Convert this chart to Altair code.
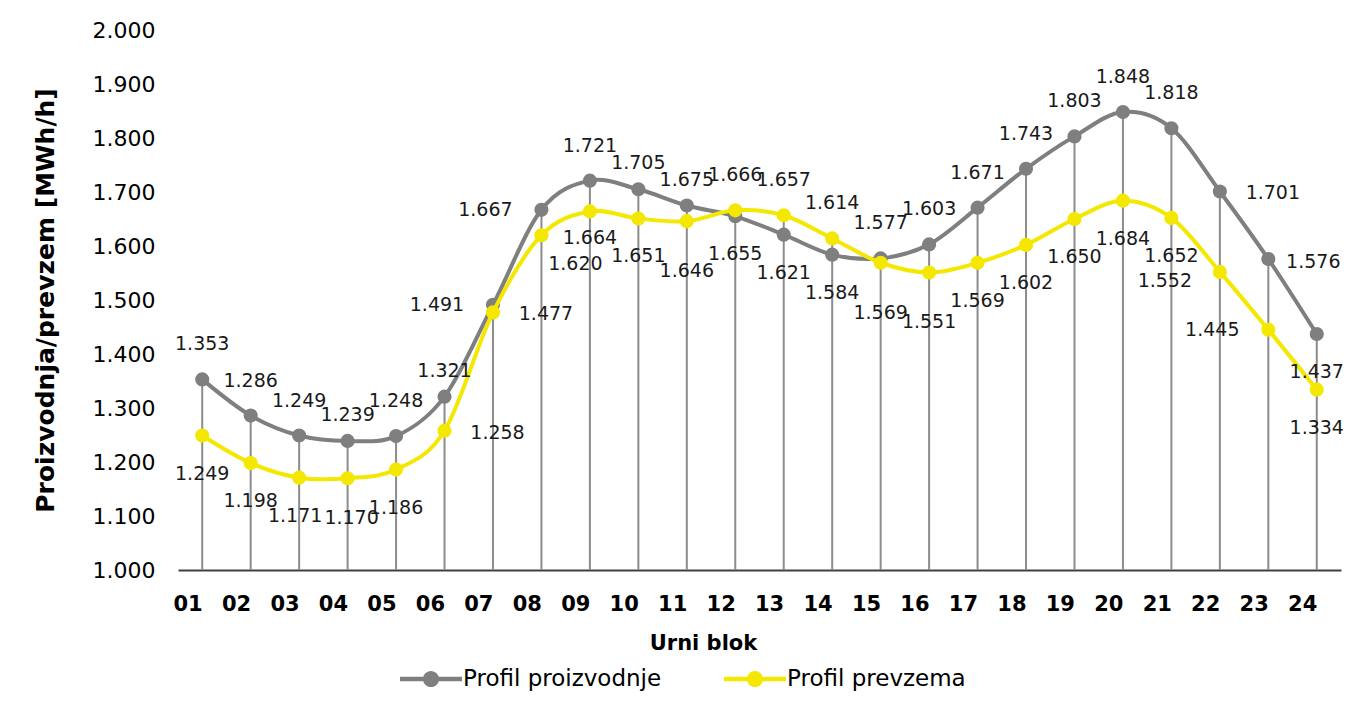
import altair as alt
import pandas as pd

hours = ["01","02","03","04","05","06","07","08","09","10","11","12",
         "13","14","15","16","17","18","19","20","21","22","23","24"]
proizvodnja = [1.353,1.286,1.249,1.239,1.248,1.321,1.491,1.667,1.721,1.705,1.675,1.655,
               1.621,1.584,1.577,1.603,1.671,1.743,1.803,1.848,1.818,1.701,1.576,1.437]
prevzem = [1.249,1.198,1.171,1.170,1.186,1.258,1.477,1.620,1.664,1.651,1.646,1.666,
           1.657,1.614,1.569,1.551,1.569,1.602,1.650,1.684,1.652,1.552,1.445,1.334]
series_names = ["Profil proizvodnje", "Profil prevzema"]
series_colors = ["#7f7f7f", "#f4e700"]

# label placement codes (style), one per point
pos_proizvodnja = ["t","t","t","t2","t","t2","l","l","t","t2","t2","b",
                   "b","b","t","t","t","t","t","t","t","r","r2","b"]
pos_prevzem = ["b","b","bL","bR","b","r","r","br","b3","b","b2","t",
               "t","t","b2","b2","b","b","b","b","b","bl","l","b"]
offsets = {"t": (0, -35), "t2": (0, -26), "b": (0, 38), "b2": (0, 50), "b3": (0, 27),
           "bL": (-4, 38), "bR": (4, 40),
           "l": (-56, 0), "r": (53, 2), "r2": (45, 3), "br": (34, 29), "bl": (-55, 9)}

rows = []
for h, v, p in zip(hours, proizvodnja, pos_proizvodnja):
    rows.append({"hour": h, "series": series_names[0], "value": v, "pos": p})
for h, v, p in zip(hours, prevzem, pos_prevzem):
    rows.append({"hour": h, "series": series_names[1], "value": v, "pos": p})
df = pd.DataFrame(rows)

drop = pd.DataFrame({"hour": hours,
                     "top": [max(a, b) for a, b in zip(proizvodnja, prevzem)]})

FONT = "DejaVu Sans"

x_enc = alt.X("hour:O", sort=hours,
              scale=alt.Scale(type="point", padding=0.5),
              axis=alt.Axis(title="Urni blok", labelAngle=0, labelFont=FONT,
                            labelFontSize=21, labelFontWeight="bold", labelColor="#000000",
                            labelBaseline="middle", labelPadding=34,
                            ticks=False, tickSize=0, domainColor="#404040", domainWidth=2,
                            titleFont=FONT, titleFontSize=21, titleFontWeight="bold",
                            titleColor="#000000", titleX=525, titleY=73,
                            titleBaseline="middle", titleAlign="center"))
y_scale = alt.Scale(domain=[1.0, 2.0], nice=False, zero=False)
y_enc = alt.Y("value:Q", scale=y_scale,
              axis=alt.Axis(title="Proizvodnja/prevzem [MWh/h]",
                            values=[1.0,1.1,1.2,1.3,1.4,1.5,1.6,1.7,1.8,1.9,2.0],
                            format=".3f", labelFont=FONT, labelFontSize=22,
                            labelColor="#000000", labelPadding=23,
                            ticks=False, tickSize=0, domain=False, grid=False,
                            titleFont=FONT, titleFontSize=25, titleFontWeight="bold",
                            titleColor="#000000", titleAngle=270, titleX=-133, titleY=270,
                            titleAlign="center", titleBaseline="middle"))

legend = alt.Legend(title=None, orient="none", legendX=222, legendY=618,
                    direction="horizontal",
                    symbolType="M-1,-0.07L1,-0.07L1,0.07L-1,0.07Z M0.26,0A0.26,0.26,0,1,1,-0.26,0A0.26,0.26,0,1,1,0.26,0Z",
                    symbolSize=3844, symbolStrokeWidth=0, labelFont=FONT,
                    labelFontSize=23, labelColor="#000000", labelOffset=1,
                    columnPadding=62, labelLimit=400)
color_enc = alt.Color("series:N", scale=alt.Scale(domain=series_names, range=series_colors),
                      legend=legend)

rules = alt.Chart(drop).transform_calculate(base="1.0").mark_rule(
    color="#8c8c8c", strokeWidth=2).encode(
    x=alt.X("hour:O", sort=hours), y=alt.Y("top:Q", scale=y_scale), y2="base:Q")

layers = [rules]
for name in series_names:
    sub = alt.Chart(df).transform_filter(alt.datum.series == name)
    line = sub.mark_line(strokeWidth=4, interpolate="cardinal").encode(
        x=x_enc, y=y_enc, color=color_enc)
    pts = sub.mark_circle(size=200, opacity=1).encode(
        x=x_enc, y=y_enc, color=color_enc)
    layers += [line, pts]

for name in series_names:
    for code, (dx, dy) in offsets.items():
        t = alt.Chart(df).transform_filter(
            (alt.datum.series == name) & (alt.datum.pos == code)
        ).mark_text(font=FONT, fontSize=19, color="#1a1a1a", dx=dx, dy=dy,
                    baseline="middle", align="center").encode(
            x=x_enc, y=y_enc, text=alt.Text("value:Q", format=".3f"))
        layers.append(t)

chart = alt.layer(*layers).properties(
    width=1163, height=540,
    autosize=alt.AutoSizeParams(type="none"),
    padding={"left": 170, "top": 22, "right": 2, "bottom": 130},
).configure_view(stroke=None).configure_axis(grid=False)

chart.save("out.html", embed_options={"renderer": "svg", "actions": False})
